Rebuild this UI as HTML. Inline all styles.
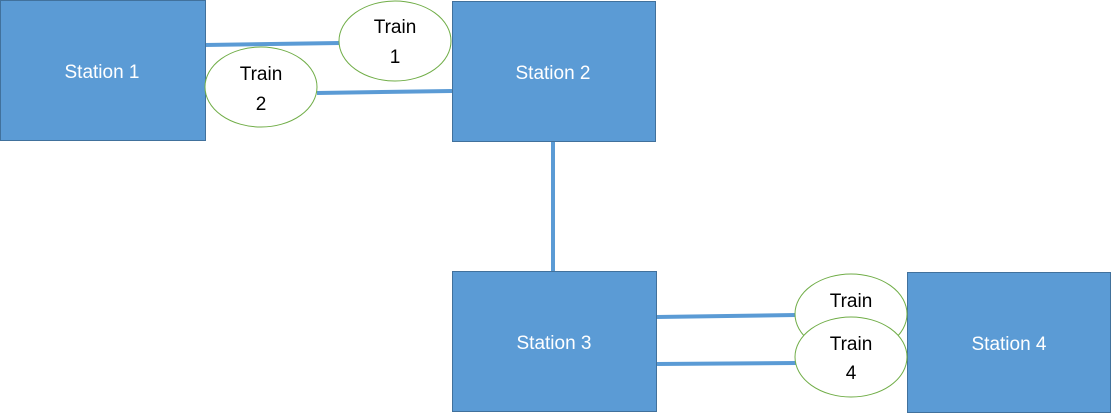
<!DOCTYPE html>
<html><head><style>body{margin:0;background:#fff}svg{display:block}</style></head><body>
<svg width="1112" height="414" xmlns="http://www.w3.org/2000/svg" font-family="Liberation Sans, sans-serif">
<g stroke="#5b9bd5" stroke-width="4" fill="none">
<line x1="205" y1="45" x2="340" y2="43"/>
<line x1="317" y1="93" x2="452" y2="91"/>
<line x1="553" y1="141" x2="553" y2="272"/>
<line x1="656" y1="317" x2="796" y2="315"/>
<line x1="656" y1="364" x2="796" y2="363"/>
</g>
<g fill="#5b9bd5" stroke="#41719c" stroke-width="1">
<rect x="0.5" y="0.5" width="205" height="140"/>
<rect x="452.5" y="1.5" width="203" height="140"/>
<rect x="452.5" y="271.5" width="204" height="140"/>
<rect x="907.5" y="272.5" width="203" height="140"/>
</g>
<g fill="#fff" font-size="19" text-anchor="middle">
<text x="102" y="78">Station 1</text>
<text x="553" y="79">Station 2</text>
<text x="554" y="349">Station 3</text>
<text x="1009" y="350">Station 4</text>
</g>
<g fill="#fff" stroke="#70ad47" stroke-width="1">
<ellipse cx="395" cy="41" rx="56" ry="40"/>
<ellipse cx="261" cy="87" rx="56" ry="40"/>
<ellipse cx="851" cy="314" rx="56" ry="40"/>
<ellipse cx="851" cy="357" rx="56" ry="40"/>
</g>
<g fill="#000" font-size="19" text-anchor="middle">
<text x="395" y="33">Train</text><text x="395" y="63">1</text>
<text x="261" y="80">Train</text><text x="261" y="110">2</text>
<text x="851" y="307">Train</text>
<text x="851" y="350">Train</text><text x="851" y="379">4</text>
</g>
</svg>
</body></html>
